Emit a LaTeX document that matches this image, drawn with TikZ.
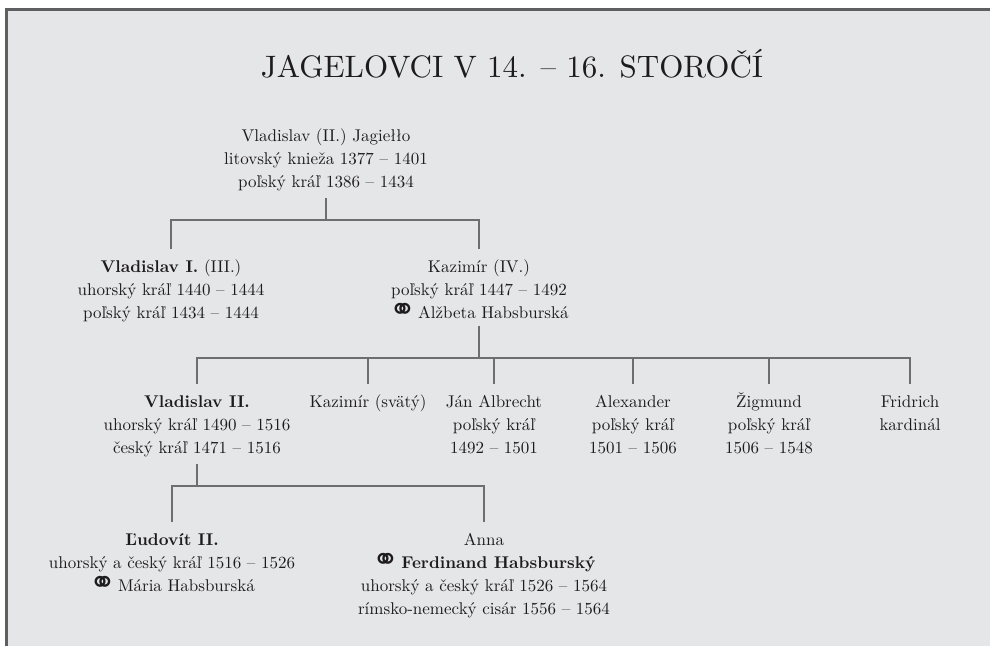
\documentclass[tikz,border=0pt]{standalone}
\usepackage{fontspec}
\setmainfont{lmroman10-regular.otf}[BoldFont=lmroman10-bold.otf]
\newfontfamily\symfont{DejaVu Sans}
% marriage sign, kept out of the line height
\newcommand{\marr}{\smash{\raisebox{-2.5pt}{\symfont\fontsize{32}{32}\selectfont ⚭}}\hspace{2pt}}
\definecolor{panel}{HTML}{E5E6E8}
\definecolor{frame}{HTML}{5E5F61}
\definecolor{ink}{HTML}{1E1B1C}
\definecolor{wire}{HTML}{6D6E71}
\tikzset{
  person/.style={align=center, inner xsep=2pt, inner ysep=7pt, anchor=north,
    font=\fontsize{17}{23}\selectfont, text=ink},
  conn/.style={draw=wire, line width=1.2pt},
  heading/.style={font=\fontsize{31}{36}\selectfont, text=ink, anchor=base}
}
\begin{document}
\begin{tikzpicture}[x=1pt,y=-1pt]
\useasboundingbox (0,0) rectangle (990,646);
% panel with frame on top and left
\fill[panel] (6,9) rectangle (990,646);
\draw[frame, line width=3pt] (6.3,646) -- (6.3,9.5) -- (990,9.5);

\node[heading] (title) at (512,77) {JAGELOVCI V 14. – 16. STOROČÍ};

% generation 1
\node[person] (root) at (326,118) {\strut Vladislav (II.) Jagiełło\\ litovský knieža 1377 – 1401\\ poľský kráľ 1386 – 1434};

% generation 2
\node[person] (v1) at (171,249) {\strut\textbf{Vladislav I.} (III.)\\ uhorský kráľ 1440 – 1444\\ poľský kráľ 1434 – 1444};
\node[person] (k4) at (479,249) {\strut Kazimír (IV.)\\ poľský kráľ 1447 – 1492\\ \marr Alžbeta Habsburská};

% generation 3
\node[person] (c1) at (197,384) {\strut\textbf{Vladislav II.}\\ uhorský kráľ 1490 – 1516\\ český kráľ 1471 – 1516};
\node[person] (c2) at (368,384) {\strut Kazimír (svätý)};
\node[person] (c3) at (494,384) {\strut Ján Albrecht\\ poľský kráľ\\ 1492 – 1501};
\node[person] (c4) at (633,384) {\strut Alexander\\ poľský kráľ\\ 1501 – 1506};
\node[person] (c5) at (769,384) {\strut Žigmund\\ poľský kráľ\\ 1506 – 1548};
\node[person] (c6) at (910,384) {\strut Fridrich\\ kardinál};

% generation 4
\node[person] (l2) at (172,522) {\strut\textbf{Ľudovít II.}\\ uhorský a český kráľ 1516 – 1526\\ \marr Mária Habsburská};
\node[person] (an) at (484,522) {\strut Anna\\ \marr\textbf{Ferdinand Habsburský}\\ uhorský a český kráľ 1526 – 1564\\ rímsko-nemecký cisár 1556 – 1564};

% bus lines
\coordinate (bus1) at (0,220);
\coordinate (bus2) at (0,358);
\coordinate (bus3) at (0,486);

\draw[conn] (root.south) -- (root.south |- bus1);
\draw[conn] (v1.north) |- (k4.north |- bus1) -- (k4.north);

\draw[conn] (k4.south) -- (k4.south |- bus2);
\draw[conn] (c1.north) |- (c6.north |- bus2) -- (c6.north);
\foreach \c in {c2,c3,c4,c5}
  \draw[conn] (\c.north) -- (\c.north |- bus2);

\draw[conn] (c1.south) -- (c1.south |- bus3);
\draw[conn] (l2.north) |- (an.north |- bus3) -- (an.north);
\end{tikzpicture}
\end{document}
